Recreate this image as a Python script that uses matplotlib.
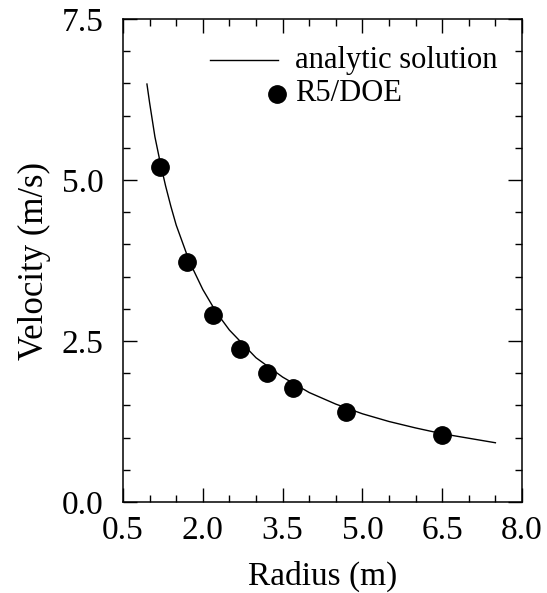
import matplotlib.pyplot as plt
from matplotlib.ticker import FixedLocator, MultipleLocator

plt.rcParams['font.family'] = ['Liberation Serif', 'DejaVu Serif']

# measured points (R5/DOE)
radius_pts = [1.2, 1.7, 2.2, 2.7, 3.2, 3.7, 4.7, 6.5]
velocity_pts = [5.20, 3.72, 2.90, 2.38, 2.00, 1.77, 1.40, 1.04]

# analytic solution
radius_curve = [0.95, 1.0, 1.1, 1.2, 1.3, 1.4, 1.5, 1.75, 2.0, 2.25, 2.5, 3.0, 3.5,
                4.0, 4.5, 5.0, 5.5, 6.0, 6.5, 7.0, 7.5]
velocity_curve = [6.49, 6.20, 5.67, 5.27, 4.91, 4.59, 4.30, 3.73, 3.30, 2.95, 2.67,
                  2.24, 1.94, 1.70, 1.52, 1.37, 1.25, 1.15, 1.06, 0.99, 0.92]

x_ticks = [0.5, 2.0, 3.5, 5.0, 6.5, 8.0]
y_ticks = [0.0, 2.5, 5.0, 7.5]

fig = plt.figure(figsize=(5.47, 5.93), dpi=100)
ax = fig.add_axes([123/547, 1 - 502/593, 399/547, 483/593])

ax.plot(radius_curve, velocity_curve, color='black', lw=1.0)
ax.plot(radius_pts, velocity_pts, 'o', color='black', ms=12.5)

ax.set_xlim(0.5, 8.0)
ax.set_ylim(0.0, 7.5)
ax.xaxis.set_major_locator(FixedLocator(x_ticks))
ax.xaxis.set_minor_locator(MultipleLocator(0.5))
ax.yaxis.set_major_locator(FixedLocator(y_ticks))
ax.yaxis.set_minor_locator(MultipleLocator(0.5))
ax.xaxis.set_major_formatter(lambda v, p: f"{v:.1f}")
ax.yaxis.set_major_formatter(lambda v, p: f"{v:.1f}")

ax.tick_params(which='both', direction='in', top=True, right=True, width=1.0)
ax.tick_params(which='major', length=10, labelsize=24)
ax.tick_params(which='minor', length=5)
ax.tick_params(axis='x', pad=10)
ax.tick_params(axis='y', pad=14)
for s in ax.spines.values():
    s.set_linewidth(1.1)

ax.set_xlabel("Radius (m)", fontsize=24, labelpad=10)
ax.set_ylabel("Velocity (m/s)", fontsize=25, labelpad=8)

# legend drawn by hand
ax.plot([0.218, 0.388], [0.915, 0.915], color='black', lw=1.0, transform=ax.transAxes)
ax.text(0.431, 0.915, "analytic solution", fontsize=22, va='center', transform=ax.transAxes)
ax.plot([0.386], [0.845], 'o', color='black', ms=12.5, transform=ax.transAxes)
ax.text(0.431, 0.845, "R5/DOE", fontsize=22, va='center', transform=ax.transAxes)

plt.savefig("out.png", dpi=100)
